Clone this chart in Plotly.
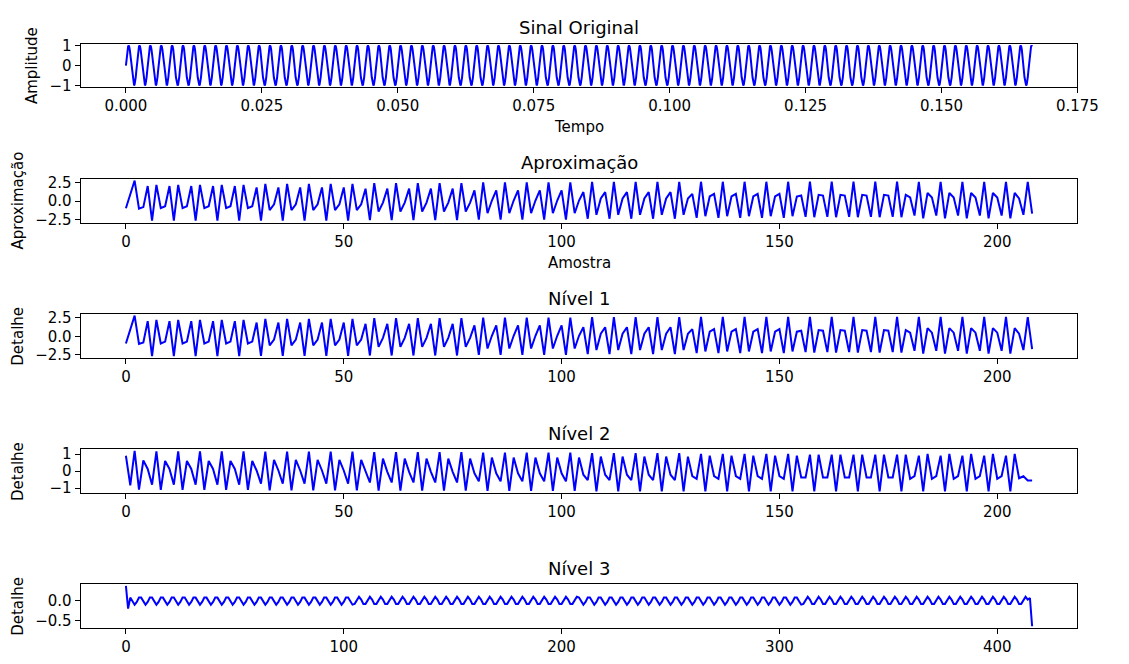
import numpy as np
import plotly.graph_objects as go

# ---------------- data ----------------
# original signal: one period (20 samples) repeated over 1/6 s
sinal_periodo = [0.0, 0.31, 0.59, 0.81, 0.95, 1.0, 0.95, 0.81, 0.59, 0.31,
                 0.0, -0.31, -0.59, -0.81, -0.95, -1.0, -0.95, -0.81, -0.59, -0.31]
sinal_n_amostras = 1667
sinal_duracao = 1 / 6

# approximation coefficients (also shown as "Nível 1")
aprox_inicio = [-0.95, 1.0, 2.8, -1.0, -0.8]
aprox_padroes = [
    [2.06, -2.65, 2.22, -0.95, -0.69],
    [1.87, -2.62, 2.36, -1.20, -0.41],
    [1.70, -2.57, 2.46, -1.40, -0.19],
    [1.48, -2.49, 2.55, -1.63, 0.09],
    [1.24, -2.38, 2.61, -1.84, 0.37],
    [0.99, -2.25, 2.64, -2.03, 0.64],
    [0.77, -2.12, 2.65, -2.17, 0.86],
    [0.51, -1.94, 2.63, -2.32, 1.12],
]
aprox_fim = [0.37, -1.84, 2.61, -1.70]

# detail "Nível 2"
det2_inicio = [0.91, -0.84, 1.20, -1.09, 0.63]
det2_padroes = [
    [0.13, -0.80, 1.17, -1.10, 0.60],
    [0.04, -0.74, 1.15, -1.13, 0.67],
    [-0.04, -0.67, 1.13, -1.15, 0.74],
    [-0.13, -0.60, 1.10, -1.17, 0.80],
    [-0.21, -0.53, 1.06, -1.19, 0.86],
    [-0.29, -0.45, 1.02, -1.20, 0.92],
    [-0.37, -0.37, 0.97, -1.20, 0.97],
    [-0.45, -0.29, 0.92, -1.20, 1.02],
]
det2_fim = [-0.42, -0.30, -0.55, -0.55]
blocos_por_padrao = 5

# detail "Nível 3": small ripple (period 5) that slowly shifts
det3_inicio = [0.38, -0.20]
det3_padroes = [
    [-0.03, 0.08, 0.08, -0.03, -0.10],
    [-0.08, 0.03, 0.10, 0.03, -0.08],
    [-0.10, -0.03, 0.08, 0.08, -0.03],
    [-0.08, -0.08, 0.03, 0.10, 0.03],
]
det3_limites = [105, 208, 311, 415]   # first sample index after each ripple segment
det3_fim = [0.07, -0.65]

titulos = ["Sinal Original", "Aproximação", "Nível 1", "Nível 2", "Nível 3"]
rotulos_y = ["Amplitude", "Aproximação", "Detalhe", "Detalhe", "Detalhe"]
rotulos_x = ["Tempo", "Amostra", "", "", ""]


def montar(inicio, padroes, blocos, fim):
    vals = list(inicio)
    for p in padroes:
        vals += list(p) * blocos
    vals += list(fim)
    return vals


sinal = (sinal_periodo * (sinal_n_amostras // len(sinal_periodo) + 1))[:sinal_n_amostras]
tempo = np.linspace(0, sinal_duracao, len(sinal))

aproximacao = montar(aprox_inicio, aprox_padroes, blocos_por_padrao, aprox_fim)
nivel1 = list(aproximacao)
nivel2 = montar(det2_inicio, det2_padroes, blocos_por_padrao, det2_fim)

nivel3 = list(det3_inicio)
inicio_seg = len(det3_inicio)
for padrao, limite in zip(det3_padroes, det3_limites):
    nivel3 += [padrao[k % 5] for k in range(inicio_seg, limite)]
    inicio_seg = limite
nivel3 += det3_fim

series = [
    (tempo, sinal),
    (np.arange(len(aproximacao)), aproximacao),
    (np.arange(len(nivel1)), nivel1),
    (np.arange(len(nivel2)), nivel2),
    (np.arange(len(nivel3)), nivel3),
]

# ---------------- layout ----------------
# The page body keeps its default 8 px margin, so the figure is 16 px smaller
# than the window and every screen position is shifted by 8 px.
OFF = 8
W, H = 1129 - 2 * OFF, 664 - 2 * OFF
x_left, x_right = 82 - OFF, 1098 - OFF
rows_screen = [(37.3, 82.3), (175.7, 221.0), (314.2, 359.8), (452.8, 498.6), (591.2, 636.8)]
rows_px = [(a - OFF, b - OFF) for a, b in rows_screen]
x_dticks = [0.025, 50, 50, 50, 100]
x_formats = [".3f", "d", "d", "d", "d"]
y_dticks = [1, 2.5, 2.5, 1, 0.5]
y_formats = ["d", ".1f", ".1f", "d", ".1f"]

FONT = "DejaVu Sans"
TICK_SIZE = 15
TITLE_SIZE = 18


def auto_range(v):
    lo, hi = float(np.min(v)), float(np.max(v))
    m = 0.05 * (hi - lo)
    eps = 1e-6 * (hi - lo)
    return [lo - m - eps, hi + m + eps]


fig = go.Figure()
annotations = []
layout = dict(
    width=W, height=H,
    margin=dict(l=0, r=0, t=0, b=0),
    paper_bgcolor="white", plot_bgcolor="white",
    showlegend=False,
    font=dict(family=FONT, size=TICK_SIZE, color="black"),
)

xc = (x_left + x_right) / 2 / W
for i, ((xs, ys), (top, bot)) in enumerate(zip(series, rows_px)):
    n = i + 1
    xa = "x" if n == 1 else f"x{n}"
    ya = "y" if n == 1 else f"y{n}"
    fig.add_trace(go.Scatter(x=xs, y=ys, mode="lines",
                             line=dict(color="#0000ff", width=2),
                             xaxis=xa, yaxis=ya, hoverinfo="skip"))
    common = dict(showline=True, linecolor="black", linewidth=1, mirror=True,
                  ticks="outside", ticklen=5, tickwidth=1, tickcolor="black",
                  showgrid=False, zeroline=False,
                  tickfont=dict(family=FONT, size=TICK_SIZE, color="black"))
    layout["xaxis" if n == 1 else f"xaxis{n}"] = dict(
        common, domain=[x_left / W, x_right / W], anchor=ya,
        range=auto_range(xs), dtick=x_dticks[i], tick0=0, tickformat=x_formats[i])
    layout["yaxis" if n == 1 else f"yaxis{n}"] = dict(
        common, domain=[1 - bot / H, 1 - top / H], anchor=xa,
        range=auto_range(ys), dtick=y_dticks[i], tick0=0, tickformat=y_formats[i])
    # title
    annotations.append(dict(text=titulos[i], x=xc, y=1 - (top - 16) / H,
                            xref="paper", yref="paper", xanchor="center", yanchor="middle",
                            showarrow=False, font=dict(family=FONT, size=TITLE_SIZE, color="black")))
    # y label
    ylx = (32 if i == 0 else 18) - OFF
    annotations.append(dict(text=rotulos_y[i], x=ylx / W, y=1 - (top + bot) / 2 / H,
                            xref="paper", yref="paper", xanchor="center", yanchor="middle",
                            textangle=-90, showarrow=False,
                            font=dict(family=FONT, size=TICK_SIZE, color="black")))
    if rotulos_x[i]:
        annotations.append(dict(text=rotulos_x[i], x=xc, y=1 - (bot + 41) / H,
                                xref="paper", yref="paper", xanchor="center", yanchor="middle",
                                showarrow=False,
                                font=dict(family=FONT, size=TICK_SIZE, color="black")))

layout["annotations"] = annotations
fig.update_layout(**layout)
fig.write_html("out.html", config={"displayModeBar": False})
